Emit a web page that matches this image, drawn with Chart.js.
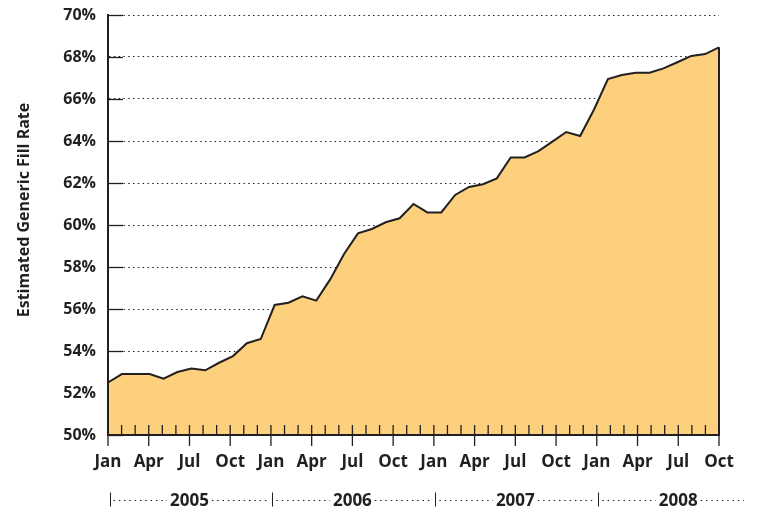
<!DOCTYPE html>
<html>
<head>
<meta charset="utf-8">
<script src="https://cdn.jsdelivr.net/npm/chart.js@4"></script>
<style>
  html, body { margin: 0; padding: 0; background: #fff; }
</style>
</head>
<body>
<canvas id="fillChart" width="758" height="512"></canvas>
<script>
const years = ['2005', '2006', '2007', '2008'];
const monthNames = ['Jan', 'Feb', 'Mar', 'Apr', 'May', 'Jun', 'Jul', 'Aug', 'Sep', 'Oct', 'Nov', 'Dec'];

// axis months shown on the chart: Jan 2005 .. Oct 2008
const tickMonths = [];
years.forEach(y => monthNames.forEach(m => tickMonths.push(m + ' ' + y)));
tickMonths.length = 46;

// the plotted series has one point less and is stretched over the same width
const dataMonths = tickMonths.slice(0, 45);

const fillRate = [
    52.5, 52.9, 52.9, 52.9, 52.68, 53.0, 53.17, 53.08, 53.44, 53.76, 54.37, 54.57,
    56.19, 56.3, 56.6, 56.4, 57.41, 58.62, 59.6, 59.81, 60.13, 60.32, 61.0, 60.6,
    60.6, 61.43, 61.81, 61.94, 62.22, 63.22, 63.22, 63.52, 63.97, 64.43, 64.24, 65.5,
    66.95, 67.14, 67.25, 67.25, 67.46, 67.75, 68.05, 68.14, 68.46
];

const yTicks = [50, 52, 54, 56, 58, 60, 62, 64, 66, 68, 70];
const yTitle = 'Estimated Generic Fill Rate';

const ink = '#231f20';
const fontFamily = '"Open Sans", "DejaVu Sans", sans-serif';

function line(ctx, x1, y1, x2, y2) {
    ctx.beginPath();
    ctx.moveTo(x1, y1);
    ctx.lineTo(x2, y2);
    ctx.stroke();
}

const decorations = {
    id: 'decorations',
    beforeDatasetsDraw(chart) {
        // short solid ticks inside the plot on the y axis (hidden under the fill)
        const {ctx, chartArea, scales: {y}} = chart;
        ctx.save();
        ctx.strokeStyle = ink;
        ctx.lineWidth = 1.3;
        y.ticks.forEach((t, i) => {
            const py = Math.round(y.getPixelForTick(i)) + 0.5;
            line(ctx, chartArea.left, py, chartArea.left + 15, py);
        });
        ctx.restore();
    },
    afterDatasetsDraw(chart) {
        const {ctx, chartArea, scales: {months}} = chart;
        const bottom = chartArea.bottom;
        ctx.save();
        ctx.strokeStyle = ink;

        // right edge of the area
        const meta = chart.getDatasetMeta(0);
        const last = meta.data[meta.data.length - 1];
        ctx.lineWidth = 2;
        line(ctx, last.x, last.y, last.x, bottom);

        // monthly ticks (up) and quarter ticks (down)
        ctx.lineWidth = 1.3;
        tickMonths.forEach((m, i) => {
            const px = months.getPixelForTick(i);
            if (i > 0) line(ctx, px, bottom - 10, px, bottom);
            if (i % 3 === 0) line(ctx, px, bottom, px, bottom + 11);
        });

        // axis lines on top of the fill
        ctx.lineWidth = 2;
        line(ctx, chartArea.left, chartArea.top - 1, chartArea.left, bottom + 1);
        line(ctx, chartArea.left - 1, bottom, chartArea.right + 1, bottom);
        ctx.restore();
    },
    afterDraw(chart) {
        const {ctx, scales: {months}} = chart;
        ctx.save();
        ctx.fillStyle = ink;
        ctx.strokeStyle = ink;

        // y axis title
        ctx.save();
        ctx.translate(24, 210);
        ctx.rotate(-Math.PI / 2);
        ctx.font = 'bold 16px ' + fontFamily;
        ctx.textAlign = 'center';
        ctx.textBaseline = 'middle';
        ctx.fillText(yTitle, 0, 0);
        ctx.restore();

        // year row
        const rowY = 500.5;
        ctx.font = 'bold 17px ' + fontFamily;
        ctx.textAlign = 'center';
        ctx.textBaseline = 'middle';
        years.forEach((yr, k) => {
            const x0 = months.getPixelForValue(k * 12) + 1.5;
            const x1 = k === years.length - 1 ? 747 : months.getPixelForValue((k + 1) * 12) + 1.5;
            const cx = (months.getPixelForValue(k * 12) + months.getPixelForValue((k + 1) * 12)) / 2;
            const w = ctx.measureText(yr).width;
            ctx.fillText(yr, cx, rowY + 1);

            ctx.lineWidth = 1;
            ctx.setLineDash([]);
            line(ctx, Math.round(x0) + 0.5, rowY - 8, Math.round(x0) + 0.5, rowY + 6);
            ctx.setLineDash([1.5, 3.8]);
            line(ctx, x0 + 4, rowY, cx - w / 2 - 3, rowY);
            line(ctx, cx + w / 2 + 3, rowY, x1 - 3, rowY);
        });
        ctx.restore();
    }
};

const ctx = document.getElementById('fillChart').getContext('2d');

new Chart(ctx, {
    type: 'line',
    data: {
        datasets: [{
            data: fillRate,
            xAxisID: 'x',
            yAxisID: 'y',
            fill: 'start',
            backgroundColor: '#fdd07e',
            borderColor: ink,
            borderWidth: 2,
            pointRadius: 0,
            tension: 0,
            clip: 6
        }]
    },
    options: {
        responsive: false,
        animation: false,
        layout: {
            padding: { left: 0, right: 39, top: 15, bottom: 0 }
        },
        plugins: {
            legend: { display: false },
            tooltip: { enabled: false }
        },
        scales: {
            x: {
                type: 'category',
                labels: dataMonths,
                display: false,
                offset: false
            },
            months: {
                type: 'category',
                labels: tickMonths,
                position: 'bottom',
                offset: false,
                grid: { display: false, drawTicks: false },
                border: { display: true, color: ink, width: 2 },
                ticks: {
                    autoSkip: false,
                    maxRotation: 0,
                    padding: 17,
                    color: ink,
                    font: { family: fontFamily, size: 17, weight: 'bold' },
                    callback: function (value, index) {
                        return index % 3 === 0 ? this.getLabelForValue(value).split(' ')[0] : '';
                    }
                },
                afterFit: function (scale) { scale.height = 77; }
            },
            y: {
                min: yTicks[0],
                max: yTicks[yTicks.length - 1],
                afterBuildTicks: function (scale) {
                    scale.ticks = yTicks.map(v => ({ value: v }));
                },
                grid: { color: ink, lineWidth: 1, drawTicks: false },
                border: { display: true, color: ink, width: 2, dash: [1.5, 3.3] },
                ticks: {
                    padding: 12,
                    color: ink,
                    font: { family: fontFamily, size: 16, weight: 'bold' },
                    callback: v => v + '%'
                },
                afterFit: function (scale) {
                    scale.width = 108;
                    scale.paddingTop = 0;
                    scale.paddingBottom = 0;
                }
            }
        }
    },
    plugins: [decorations]
});
</script>
</body>
</html>
